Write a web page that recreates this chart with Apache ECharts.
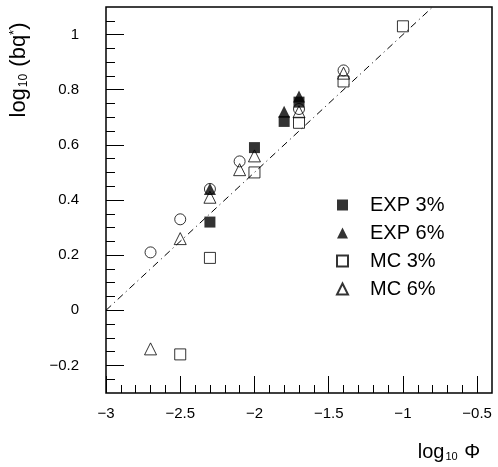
<!DOCTYPE html>
<html>
<head>
<meta charset="utf-8">
<script src="https://cdn.jsdelivr.net/npm/echarts@6/dist/echarts.min.js"></script>
<style>
  html, body { margin: 0; padding: 0; background: #fff; }
  #chart { width: 498px; height: 467px; }
</style>
</head>
<body>
<div id="chart"></div>
<script>
// points without legend entry (open circles)
const circX = [-2.7, -2.5, -2.3, -2.1, -1.7, -1.4];
const circY = [0.21, 0.33, 0.44, 0.54, 0.73, 0.87];
// EXP 3%
const exp3X = [-2.3, -2.0, -1.8, -1.7];
const exp3Y = [0.32, 0.59, 0.685, 0.755];
// EXP 6%
const exp6X = [-2.3, -1.8, -1.7];
const exp6Y = [0.44, 0.72, 0.775];
// MC 3%
const mc3X = [-2.5, -2.3, -2.0, -1.7, -1.4, -1.0];
const mc3Y = [-0.16, 0.19, 0.50, 0.68, 0.83, 1.03];
// MC 6%
const mc6X = [-2.7, -2.5, -2.3, -2.1, -2.0, -1.7, -1.4];
const mc6Y = [-0.14, 0.26, 0.41, 0.51, 0.56, 0.72, 0.86];
// dash-dot reference line
const fitX = [-3, -0.8];
const fitY = [0, 1.1];

// ticks
const xMajor = [-3, -2.5, -2, -1.5, -1, -0.5];
const xMinor = [-2.9, -2.8, -2.7, -2.6, -2.4, -2.3, -2.2, -2.1, -1.9, -1.8, -1.7, -1.6,
  -1.4, -1.3, -1.2, -1.1, -0.9, -0.8, -0.7, -0.6];
const yMajor = [-0.2, 0, 0.2, 0.4, 0.6, 0.8, 1];
const yMinor = [-0.25, -0.15, -0.1, -0.05, 0.05, 0.1, 0.15, 0.25, 0.3, 0.35, 0.45, 0.5,
  0.55, 0.65, 0.7, 0.75, 0.85, 0.9, 0.95, 1.05];

const font = "Liberation Sans";

function zip(xs, ys) {
  return xs.map((x, i) => [x, ys[i]]);
}
function fmt(v) {
  return String(+v.toFixed(2)).replace("-", "\u2212");
}

const chart = echarts.init(document.getElementById("chart"));

const openStyle = { color: "transparent", borderColor: "#000", borderWidth: 1 };
const noLine = { show: false, onZero: false };

chart.setOption({
  animation: false,
  grid: {
    left: 105, right: 6, top: 7, bottom: 74,
    show: true, borderColor: "#000", borderWidth: 1.5, backgroundColor: "#fff"
  },
  legend: {
    data: ["EXP 3%", "EXP 6%", "MC 3%", "MC 6%"],
    orient: "vertical",
    left: 331,
    top: 190,
    itemWidth: 11,
    itemHeight: 11,
    itemGap: 8,
    textStyle: {
      fontFamily: font, fontSize: 20, lineHeight: 20, color: "#000",
      padding: [0, 0, 0, 17]
    }
  },
  xAxis: [
    {
      type: "value", min: -3, max: -0.4, position: "bottom",
      splitLine: { show: false },
      axisLine: noLine,
      axisTick: { inside: true, length: 17, customValues: xMajor, lineStyle: { color: "#000" } },
      axisLabel: {
        customValues: xMajor, formatter: fmt, margin: 13,
        fontFamily: font, fontSize: 15, color: "#000"
      },
      name: "{a|log}{s|10}{a| \u03a6}",
      nameLocation: "middle",
      nameGap: 49,
      nameTextStyle: {
        padding: [0, 0, 0, 300],
        rich: {
          a: { fontFamily: font, fontSize: 20, color: "#000" },
          s: { fontFamily: font, fontSize: 11, color: "#000", verticalAlign: "bottom", padding: [0, 1, 0, 1] }
        }
      }
    },
    {
      type: "value", min: -3, max: -0.4, position: "bottom",
      splitLine: { show: false },
      axisLine: noLine,
      axisTick: { inside: true, length: 8, customValues: xMinor, lineStyle: { color: "#000" } },
      axisLabel: { show: false }
    }
  ],
  yAxis: [
    {
      type: "value", min: -0.3, max: 1.1, position: "left",
      splitLine: { show: false },
      axisLine: noLine,
      axisTick: { inside: true, length: 18, customValues: yMajor, lineStyle: { color: "#000" } },
      axisLabel: {
        customValues: yMajor, formatter: fmt, margin: 27,
        fontFamily: font, fontSize: 15, color: "#000"
      },
      name: "{a|log}{s|10}{a| (bq}{p|*}{a|)}",
      nameLocation: "middle",
      nameGap: 76,
      nameTextStyle: {
        padding: [0, 0, 0, 260],
        rich: {
          a: { fontFamily: font, fontSize: 22, color: "#000" },
          s: { fontFamily: font, fontSize: 12, color: "#000", verticalAlign: "bottom", padding: [0, 1, 0, 1] },
          p: { fontFamily: font, fontSize: 13, color: "#000", verticalAlign: "top" }
        }
      }
    },
    {
      type: "value", min: -0.3, max: 1.1, position: "left",
      splitLine: { show: false },
      axisLine: noLine,
      axisTick: { inside: true, length: 9, customValues: yMinor, lineStyle: { color: "#000" } },
      axisLabel: { show: false }
    }
  ],
  series: [
    {
      name: "fit", type: "line", data: zip(fitX, fitY),
      showSymbol: false, silent: true,
      lineStyle: { color: "#000", width: 1, type: [7, 4, 1, 4] }
    },
    {
      name: "circles", type: "scatter", data: zip(circX, circY),
      symbol: "circle", symbolSize: 11, itemStyle: openStyle
    },
    {
      name: "MC 3%", type: "scatter", data: zip(mc3X, mc3Y),
      symbol: "rect", symbolSize: 11, itemStyle: openStyle
    },
    {
      name: "MC 6%", type: "scatter", data: zip(mc6X, mc6Y),
      symbol: "triangle", symbolSize: 12, itemStyle: openStyle
    },
    {
      name: "EXP 3%", type: "scatter", data: zip(exp3X, exp3Y),
      symbol: "rect", symbolSize: 11, itemStyle: { color: "#000" }
    },
    {
      name: "EXP 6%", type: "scatter", data: zip(exp6X, exp6Y),
      symbol: "triangle", symbolSize: 12, itemStyle: { color: "#000" }
    }
  ]
});
</script>
</body>
</html>
